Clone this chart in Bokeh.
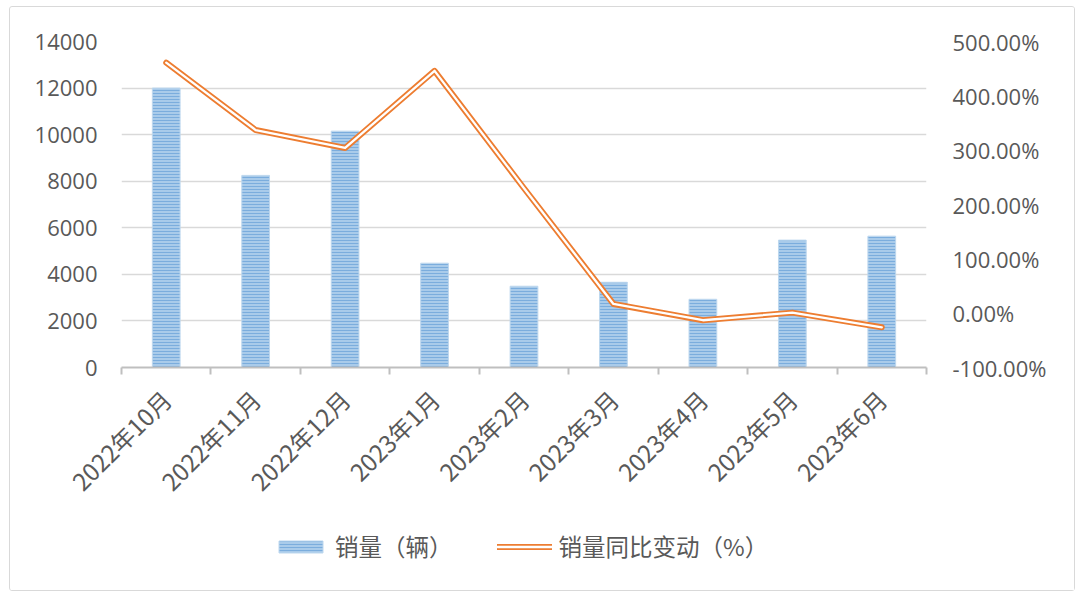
from bokeh.plotting import figure
from bokeh.layouts import column
from bokeh.models import (Range1d, LinearAxis, FixedTicker, CustomJSTickFormatter,
                          PrintfTickFormatter, Legend, LegendItem, ColumnDataSource)
from bokeh.embed import file_html
from bokeh.resources import INLINE
import math

categories = ["2022年10月", "2022年11月", "2022年12月", "2023年1月", "2023年2月",
              "2023年3月", "2023年4月", "2023年5月", "2023年6月"]
sales = [12000, 8250, 10150, 4480, 3490, 3660, 2930, 5470, 5640]
yoy_pct = [461, 337, 304, 446, 230, 17, -13, 1, -26]
left_ticks = [0, 2000, 4000, 6000, 8000, 10000, 12000, 14000]
right_ticks = [-100, 0, 100, 200, 300, 400, 500]
legend_labels = ["销量（辆）", "销量同比变动（%）"]

FONT = "Noto Sans CJK SC"
NUMFONT = "Open Sans"
TXT = "#595959"
GRID = "#D9D9D9"
AX = "#BFBFBF"
BAR_STYLE = dict(fill_color="#A9CBEA", line_color="#BDD7EE", line_width=1,
                 hatch_pattern="horizontal_line", hatch_color="#6FA5DA",
                 hatch_scale=3, hatch_weight=1, hatch_alpha=0.8)
OUTER = dict(line_color="#ED7D31", line_width=6, line_join="round", line_cap="round")
INNER = dict(line_color="white", line_width=2.3, line_join="round", line_cap="round")

xs = [i + 0.5 for i in range(len(categories))]
src = ColumnDataSource(dict(x=xs, sales=sales, pct=yoy_pct))

p = figure(width=1064, height=520, output_backend="svg", toolbar_location=None,
           x_range=Range1d(0, len(categories)), y_range=Range1d(0, 14000),
           min_border_left=111, min_border_right=148, min_border_top=34,
           min_border_bottom=160, x_axis_location=None, y_axis_location=None)
p.extra_y_ranges = {"pct": Range1d(-100, 500)}
p.outline_line_color = None
p.background_fill_color = "white"
p.border_fill_color = "white"

# grid
p.xgrid.visible = False
p.ygrid.ticker = FixedTicker(ticks=left_ticks)
p.ygrid.grid_line_color = GRID
p.ygrid.grid_line_width = 1.5

# left axis
yl = LinearAxis(ticker=FixedTicker(ticks=left_ticks))
yl.axis_line_color = None
yl.major_tick_line_color = None
yl.minor_tick_line_color = None
yl.major_label_standoff = 18
yl.major_label_text_font = NUMFONT
yl.major_label_text_font_size = "22px"
yl.major_label_text_color = TXT
p.add_layout(yl, "left")

# right axis
yr = LinearAxis(y_range_name="pct", ticker=FixedTicker(ticks=right_ticks),
                formatter=PrintfTickFormatter(format="%.2f%%"))
yr.axis_line_color = None
yr.major_tick_line_color = None
yr.minor_tick_line_color = None
yr.major_label_standoff = 20
yr.major_label_text_font = NUMFONT
yr.major_label_text_font_size = "22px"
yr.major_label_text_color = TXT
p.add_layout(yr, "right")

# bottom axis
xa = LinearAxis(ticker=FixedTicker(ticks=xs, minor_ticks=list(range(len(categories) + 1))),
                formatter=CustomJSTickFormatter(args=dict(labels=categories),
                                                code="return labels[Math.floor(tick)] || '';"))
xa.axis_line_color = AX
xa.axis_line_width = 2
xa.major_tick_line_color = None
xa.minor_tick_line_color = AX
xa.minor_tick_line_width = 2
xa.minor_tick_out = 7
xa.minor_tick_in = 0
xa.major_label_orientation = math.pi / 4
xa.major_label_standoff = 20
xa.major_label_text_font = FONT
xa.major_label_text_font_size = "24px"
xa.major_label_text_color = TXT
p.add_layout(xa, "below")

p.vbar(x="x", top="sales", width=0.31, source=src, **BAR_STYLE)
p.line(x="x", y="pct", source=src, y_range_name="pct", **OUTER)
p.line(x="x", y="pct", source=src, y_range_name="pct", **INNER)

# legend strip (separate figure so the legend is not clipped by the frame)
lf = figure(width=1064, height=63, output_backend="svg", toolbar_location=None,
            x_range=Range1d(0, 1), y_range=Range1d(0, 1),
            min_border=0, x_axis_location=None, y_axis_location=None)
lf.outline_line_color = None
lf.grid.visible = False
offscreen = ColumnDataSource(dict(x=[-10], top=[-10], y=[-10]))
lb = lf.vbar(x="x", top="top", bottom=-11, width=0.1, source=offscreen, **BAR_STYLE)
lo = lf.line(x="x", y="y", source=offscreen, **OUTER)
li = lf.line(x="x", y="y", source=offscreen, **INNER)
legend = Legend(items=[LegendItem(label=legend_labels[0], renderers=[lb]),
                       LegendItem(label=legend_labels[1], renderers=[lo, li])],
                orientation="horizontal", location=(152, 27),
                glyph_width=55, glyph_height=15, label_standoff=7, spacing=44,
                padding=0, margin=0, border_line_color=None,
                background_fill_alpha=0,
                label_text_font=FONT, label_text_font_size="23.5px",
                label_text_color=TXT)
lf.add_layout(legend, "center")

layout = column(p, lf, spacing=0)
layout.styles = {"border": "1px solid #D9D9D9", "border-radius": "3px",
                 "margin-left": "9px", "margin-top": "6px"}

open("out.html", "w").write(file_html(layout, INLINE))
